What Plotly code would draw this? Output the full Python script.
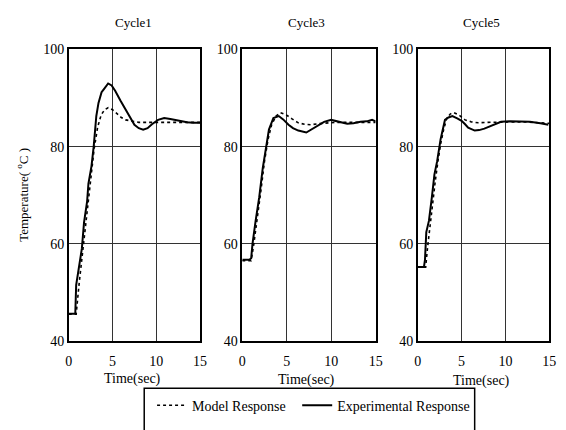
import plotly.graph_objects as go

W, H = 566, 430

# ---- data ----
cycle_titles = ["Cycle1", "Cycle3", "Cycle5"]

c1_exp_t = [0, 0.75, 0.85, 1.2, 1.5, 1.75, 2.1, 2.25, 2.6, 2.85, 3.15, 3.4, 3.75, 4.0, 4.5, 4.9, 5.3, 5.9, 6.6, 7.0, 7.5, 8.0, 8.5, 9.0, 9.5, 10.2, 10.9, 11.6, 12.3, 12.8, 13.5, 14.2, 15]
c1_exp_v = [45.6, 45.6, 51.5, 56, 59, 64.4, 68.7, 72.4, 76, 80, 86.3, 89, 91.2, 91.8, 93, 92.6, 91.5, 89.5, 87.3, 86, 84.5, 83.8, 83.5, 83.8, 84.6, 85.5, 85.9, 85.7, 85.4, 85.3, 85.0, 84.9, 84.9]
c1_mod_t = [0, 0.85, 1.2, 1.5, 1.8, 2.1, 2.5, 2.9, 3.3, 3.7, 4.1, 4.5, 5.0, 5.5, 6.0, 6.5, 7.2, 8.0, 9.0, 10, 12, 15]
c1_mod_v = [45.5, 45.5, 52, 57, 62, 67, 73, 79.5, 84, 86.5, 87.6, 88.0, 87.6, 86.8, 86.0, 85.5, 85.2, 85.0, 85.0, 85, 85, 85]

c3_exp_t = [0, 0.8, 1.0, 1.15, 1.5, 1.9, 2.3, 2.68, 3.0, 3.5, 4.1, 4.6, 5.2, 5.7, 6.3, 7.2, 8.1, 8.6, 9.2, 10.0, 10.8, 11.8, 12.5, 13.3, 14.0, 14.6, 15]
c3_exp_v = [56.7, 56.7, 57, 60, 64.7, 69.5, 75.5, 80, 83.5, 85.9, 86.3, 85.6, 84.5, 83.8, 83.3, 82.9, 83.9, 84.6, 85.1, 85.5, 85.2, 84.7, 84.8, 85.1, 85.2, 85.5, 85.2]
c3_mod_t = [0, 1.0, 1.3, 1.7, 2.1, 2.5, 2.9, 3.3, 3.8, 4.3, 4.9, 5.6, 6.3, 7.0, 7.7, 8.5, 9.5, 10.5, 12, 15]
c3_mod_v = [56.5, 56.5, 60, 65, 71, 77, 81.5, 84.5, 86.3, 87, 86.6, 85.7, 84.9, 84.6, 84.5, 84.7, 84.9, 85, 85, 85]

c5_exp_t = [0, 0.7, 0.82, 0.97, 1.27, 1.5, 1.6, 1.9, 2.2, 2.6, 2.9, 3.1, 3.5, 3.95, 4.5, 5.0, 5.4, 5.75, 6.5, 7.0, 7.6, 8.4, 9.0, 9.5, 10.5, 11.5, 12.8, 14.0, 14.9]
c5_exp_v = [55.2, 55.2, 56.7, 62.4, 64.7, 69, 69.5, 74.3, 76.9, 81.5, 84.3, 85.5, 86.0, 86.3, 85.8, 85.3, 84.6, 83.9, 83.3, 83.4, 83.7, 84.3, 84.8, 85.1, 85.2, 85.2, 85.1, 84.8, 84.5]
c5_mod_t = [0, 0.9, 1.1, 1.4, 1.7, 2.0, 2.3, 2.6, 2.95, 3.3, 3.7, 4.1, 4.7, 5.4, 6.1, 6.9, 8, 10, 12, 15]
c5_mod_v = [55.2, 55.2, 59, 64, 68.5, 73, 77, 80.5, 83.5, 85.8, 86.7, 87, 86.5, 85.5, 85.1, 84.9, 85, 85.1, 85.1, 84.8]

x_ticks = [0, 5, 10, 15]
y_ticks = [40, 60, 80, 100]
series_names = ["Model Response", "Experimental Response"]
x_title = "Time(sec)"
y_title = "Temperature( <sup>o</sup>C )"

panels = [
    (c1_mod_t, c1_mod_v, c1_exp_t, c1_exp_v),
    (c3_mod_t, c3_mod_v, c3_exp_t, c3_exp_v),
    (c5_mod_t, c5_mod_v, c5_exp_t, c5_exp_v),
]

FONT = "Liberation Serif"
fig = go.Figure()

x_px = [(66, 200), (243, 379), (422, 556)]
y_dom = [1 - 346 / H, 1 - 44 / H]

for i, (mt, mv, et, ev) in enumerate(panels):
    ax = "" if i == 0 else str(i + 1)
    fig.add_trace(go.Scatter(x=mt, y=mv, mode="lines", name=series_names[0],
                             line=dict(color="black", width=1.6, dash="dot"),
                             xaxis="x" + ax, yaxis="y" + ax, showlegend=(i == 0),
                             legend="legend"))
    fig.add_trace(go.Scatter(x=et, y=ev, mode="lines", name=series_names[1],
                             line=dict(color="black", width=2),
                             xaxis="x" + ax, yaxis="y" + ax, showlegend=(i == 0),
                             legend="legend2"))
    common = dict(showline=True, mirror=True, linecolor="black", linewidth=1.5,
                  showgrid=True, gridcolor="#333333", gridwidth=1, zeroline=False,
                  ticks="", tickfont=dict(family=FONT, size=14, color="black"))
    fig.layout["xaxis" + ax] = dict(domain=[x_px[i][0] / W, x_px[i][1] / W], range=[0, 15],
                                    tickvals=x_ticks, anchor="y" + ax, ticklabelstandoff=7, **common)
    fig.layout["yaxis" + ax] = dict(domain=y_dom, range=[40, 100], tickvals=y_ticks,
                                    anchor="x" + ax, **common)

annotations = []
title_pos = [(132, 16), (309, 16), (487, 16)]
xt_pos = [(131, 385), (308, 386), (487, 388)]
for i in range(3):
    annotations.append(dict(text=cycle_titles[i], x=title_pos[i][0] / W, y=1 - title_pos[i][1] / H,
                            xref="paper", yref="paper", showarrow=False,
                            font=dict(family=FONT, size=13, color="black"), xanchor="center", yanchor="middle"))
    annotations.append(dict(text=x_title, x=xt_pos[i][0] / W, y=1 - xt_pos[i][1] / H,
                            xref="paper", yref="paper", showarrow=False,
                            font=dict(family=FONT, size=14, color="black"), xanchor="center", yanchor="middle"))
annotations.append(dict(text=y_title, x=19 / W, y=1 - 195 / H, xref="paper", yref="paper",
                        showarrow=False, textangle=-90,
                        font=dict(family=FONT, size=13, color="black"), xanchor="center", yanchor="middle"))

legend_common = dict(orientation="h", xanchor="left", yanchor="middle", y=1 - 413 / H,
                     borderwidth=0, bgcolor="rgba(0,0,0,0)",
                     font=dict(family=FONT, size=14, color="black"))

fig.update_layout(
    width=W, height=H,
    margin=dict(l=0, r=0, t=0, b=0),
    paper_bgcolor="white", plot_bgcolor="white",
    font=dict(family=FONT, color="black"),
    annotations=annotations,
    legend=dict(x=151 / W, **legend_common),
    legend2=dict(x=299 / W, **legend_common),
    shapes=[dict(type="rect", xref="paper", yref="paper",
                 x0=143 / W, x1=480 / W, y0=1 - 440 / H, y1=1 - 395 / H,
                 line=dict(color="black", width=1.5), fillcolor="rgba(0,0,0,0)", layer="below")],
)

fig.write_html("out.html")
